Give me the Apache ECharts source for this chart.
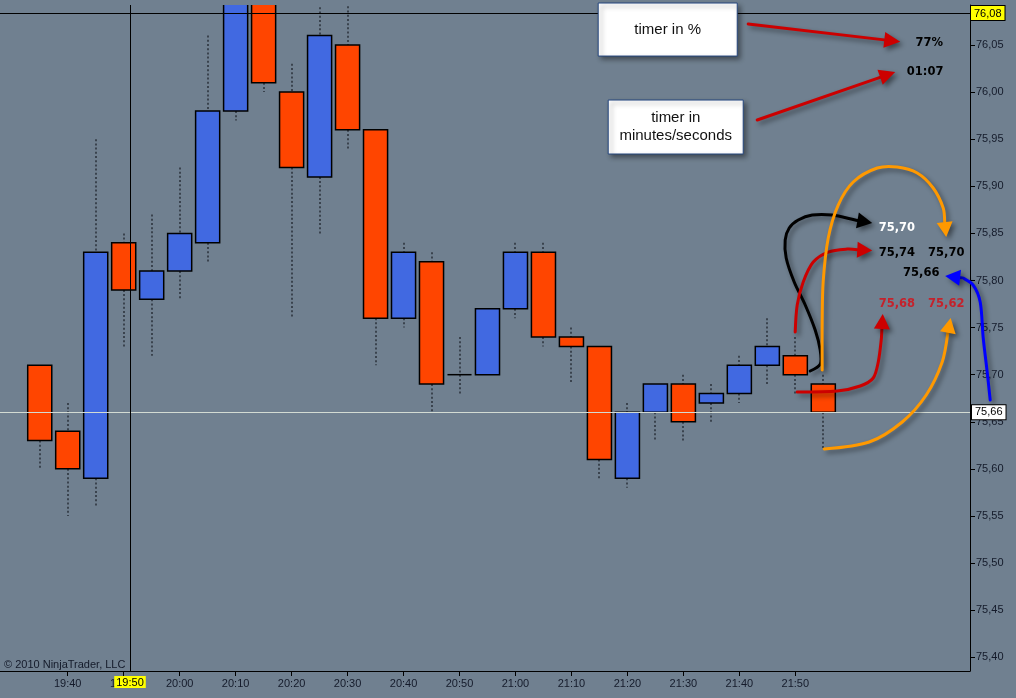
<!DOCTYPE html>
<html>
<head>
<meta charset="utf-8">
<script src="https://cdn.jsdelivr.net/npm/echarts@6/dist/echarts.min.js"></script>
<style>
html,body{margin:0;padding:0;background:#708090;}
#main{width:1016px;height:698px;}
</style>
</head>
<body>
<div id="main"></div>
<script>
// ---------- data (5-minute bars) ----------
const times  = ['19:35','19:40','19:45','19:50','19:55','20:00','20:05','20:10','20:15','20:20','20:25','20:30','20:35','20:40','20:45','20:50','20:55','21:00','21:05','21:10','21:15','21:20','21:25','21:30','21:35','21:40','21:45','21:50','21:55'];
const opens  = [75.71,75.64,75.59,75.84,75.78,75.81,75.84,75.98,76.11,76.00,75.91,76.05,75.96,75.76,75.82,75.70,75.70,75.77,75.83,75.74,75.73,75.59,75.66,75.69,75.67,75.68,75.71,75.72,75.69];
const closes = [75.63,75.60,75.83,75.79,75.81,75.85,75.98,76.11,76.01,75.92,76.06,75.96,75.76,75.83,75.69,75.70,75.77,75.83,75.74,75.73,75.61,75.66,75.69,75.65,75.68,75.71,75.73,75.70,75.66];
const lows   = [75.60,75.55,75.56,75.73,75.72,75.78,75.82,75.97,76.00,75.76,75.85,75.94,75.71,75.75,75.66,75.68,75.70,75.76,75.73,75.69,75.59,75.58,75.63,75.63,75.65,75.67,75.69,75.68,75.62];
const highs  = [75.71,75.67,75.95,75.85,75.87,75.92,76.06,76.12,76.12,76.03,76.09,76.10,75.96,75.84,75.83,75.74,75.77,75.84,75.84,75.75,75.73,75.67,75.69,75.70,75.69,75.72,75.76,75.74,75.70];

// ---------- tick labels ----------
const xTickLabels = ['19:40','19:50','20:00','20:10','20:20','20:30','20:40','20:50','21:00','21:10','21:20','21:30','21:40','21:50'];
const yTickValues = [75.40,75.45,75.50,75.55,75.60,75.65,75.70,75.75,75.80,75.85,75.90,75.95,76.00,76.05];

// ---------- crosshair (minute-of-day, price) ----------
const crossTime = 1191.13, crossTimeLabel = '19:50';
const crossPrice = 76.084, crossPriceLabel = '76,08';

// ---------- annotations, in (minute-of-day, price) ----------
const blackArrowPath = [[1312.66,75.7039],[1314.45,75.7113],[1314.45,75.7262],[1313.55,75.7474],[1311.77,75.7740],[1309.80,75.7984],[1308.37,75.8239],[1308.19,75.8430],[1308.91,75.8557],[1310.52,75.8642],[1313.02,75.8695],[1316.59,75.8695],[1320.70,75.8642]];
const blackArrowTip = [1323.74,75.8610];
const redHighPath = [[1309.98,75.7453],[1310.34,75.7740],[1311.41,75.7984],[1313.20,75.8196],[1315.88,75.8302],[1319.27,75.8334]];
const redHighTip = [1323.74,75.8318];
const orangeHighPath = [[1314.80,75.7050],[1314.80,75.7559],[1314.97,75.7984],[1315.88,75.8451],[1317.66,75.8801],[1320.34,75.9046],[1324.63,75.9194],[1328.20,75.9205],[1331.78,75.9141],[1334.63,75.8982],[1336.42,75.8770]];
const orangeHighTip = [1336.96,75.8462];
const redLowPath = [[1310.34,75.6816],[1317.49,75.6827],[1321.60,75.6880],[1323.92,75.6965],[1324.82,75.7135],[1325.35,75.7368]];
const redLowTip = [1325.62,75.7644];
const orangeLowPath = [[1315.16,75.6211],[1323.20,75.6285],[1329.10,75.6498],[1333.39,75.6784],[1336.24,75.7135]];
const orangeLowTip = [1337.76,75.7602];
const blueArrowPath = [[1344.82,75.6731],[1344.28,75.7029],[1343.57,75.7390],[1343.03,75.7772],[1341.78,75.7952],[1339.99,75.8026]];
const blueArrowTip = [1336.78,75.8048];
const timerPctArrow = [[1301.58,76.0723]];
const timerPctTip = [1328.74,76.0535];
const timerClockArrow = [[1303.19,75.9704]];
const timerClockTip = [1327.85,76.0213];

const priceNotes = [
  {text:'77%',   at:[1333.92,76.0518], color:'#000000'},
  {text:'01:07', at:[1333.20,76.0210], color:'#000000'},
  {text:'75,70', at:[1328.15,75.8554], color:'#ffffff'},
  {text:'75,74', at:[1328.15,75.8295], color:'#000000'},
  {text:'75,70', at:[1336.96,75.8295], color:'#000000'},
  {text:'75,66', at:[1332.49,75.8083], color:'#000000'},
  {text:'75,68', at:[1328.15,75.7747], color:'#c4222c'},
  {text:'75,62', at:[1336.96,75.7747], color:'#c4222c'}
];
const noteBoxes = [
  {text:'timer in %', from:[1274.78,76.0946], to:[1299.62,76.0383]},
  {text:'timer in\nminutes/seconds', from:[1276.57,75.9916], to:[1300.69,75.9343]}
];

// ---------- helpers ----------
const toMin = s => { const p = s.split(':').map(Number); return p[0]*60 + p[1]; };
const fmtTime = v => { const h = Math.floor(v/60), m = Math.round(v - h*60); return h + ':' + String(m).padStart(2,'0'); };
const fmtPrice = v => v.toFixed(2).replace('.', ',');

const X_MIN = 1167.90, X_MAX = 1341.21;
const Y_MIN = 75.3854, Y_MAX = 76.0925;
const BODY_MINUTES = 4.3;
const UP = '#4169e1', DOWN = '#ff4500', WICK = '#3a434e';
const AXIS_TEXT = '#141a2a';
const FONT = '"Liberation Sans", Arial, sans-serif';

const candleData = times.map((t, i) => [toMin(t), opens[i], closes[i], lows[i], highs[i]]);
const xTickValues = xTickLabels.map(toMin);
const lastClose = closes[closes.length - 1];

function renderCandle(params, api) {
  const t = api.value(0), o = api.value(1), c = api.value(2), lo = api.value(3), hi = api.value(4);
  const pO = api.coord([t, o]), pC = api.coord([t, c]);
  const pLo = api.coord([t, lo]), pHi = api.coord([t, hi]);
  const x = pO[0];
  const xw = Math.round(x);
  const w = api.size([BODY_MINUTES, 0])[0];
  const top = Math.min(pO[1], pC[1]), bot = Math.max(pO[1], pC[1]);
  const children = [];
  const wickStyle = {stroke: WICK, lineWidth: 2, lineDash: [2, 2.2]};
  if (pHi[1] < top - 0.5) children.push({type:'line', shape:{x1:xw, y1:pHi[1], x2:xw, y2:top}, style:wickStyle});
  if (pLo[1] > bot + 0.5) children.push({type:'line', shape:{x1:xw, y1:bot, x2:xw, y2:pLo[1]}, style:wickStyle});
  if (c === o) {
    children.push({type:'line', shape:{x1:x - w/2, y1:top, x2:x + w/2, y2:top}, style:{stroke:'#000', lineWidth:1.5}});
  } else {
    children.push({type:'rect', shape:{x:x - w/2, y:top, width:w, height:bot - top},
      style:{fill: c > o ? UP : DOWN, stroke:'#000', lineWidth:1.5}});
  }
  return {type:'group', children};
}

const chart = echarts.init(document.getElementById('main'));
chart.setOption({
  backgroundColor: '#708090',
  animation: false,
  grid: {left: 0, right: 46, top: 5, bottom: 27, outerBoundsMode: 'none'},
  xAxis: {
    type: 'value', min: X_MIN, max: X_MAX, position: 'bottom',
    axisLine: {show: true, onZero: false, lineStyle: {color: '#000', width: 1}},
    axisTick: {show: true, customValues: xTickValues, length: 5, lineStyle: {color: '#000'}},
    axisLabel: {customValues: xTickValues, formatter: fmtTime, color: AXIS_TEXT, fontSize: 11, fontFamily: FONT, margin: 7},
    splitLine: {show: false},
    axisPointer: {
      show: true, type: 'line', snap: false, value: crossTime, status: 'show', triggerTooltip: false,
      lineStyle: {color: '#000', width: 1, type: 'solid'},
      label: {show: true, formatter: crossTimeLabel, backgroundColor: '#ffff00', color: '#000', fontSize: 11,
        fontFamily: FONT, padding: [1, 2, 0, 2], margin: 5, borderRadius: 0, shadowBlur: 0}
    }
  },
  yAxis: {
    type: 'value', position: 'right', min: Y_MIN, max: Y_MAX, scale: true,
    axisLine: {show: true, lineStyle: {color: '#000', width: 1}},
    axisTick: {show: true, customValues: yTickValues, length: 5, inside: false, lineStyle: {color: '#000'}},
    axisLabel: {customValues: yTickValues, formatter: fmtPrice, color: AXIS_TEXT, fontSize: 11, fontFamily: FONT, margin: 6},
    splitLine: {show: false},
    axisPointer: {
      show: true, type: 'line', snap: false, value: crossPrice, status: 'show', triggerTooltip: false,
      lineStyle: {color: '#000', width: 1, type: 'solid'},
      label: {show: true, formatter: crossPriceLabel, backgroundColor: '#ffff00', color: '#000', fontSize: 11,
        fontFamily: FONT, padding: [2, 3, 1, 3], margin: 1, borderColor: '#000', borderWidth: 1, borderRadius: 0, shadowBlur: 0}
    }
  },
  tooltip: {show: false},
  series: [{
    type: 'custom', name: 'CL', renderItem: renderCandle, data: candleData,
    encode: {x: 0, y: [1, 2, 3, 4]}, clip: true, silent: true,
    markLine: {
      silent: true, symbol: ['none', 'none'], animation: false,
      data: [{yAxis: lastClose}],
      lineStyle: {color: '#d3dbd3', width: 1, type: 'solid'},
      label: {show: true, position: 'end', formatter: fmtPrice(lastClose), backgroundColor: '#ffffff',
        borderColor: '#000', borderWidth: 1, padding: [2, 3, 1, 3], color: '#000', fontSize: 11, fontFamily: FONT, distance: 2}
    }
  }]
});

// ---------- annotation overlay, positioned through the chart's scales ----------
const px = p => chart.convertToPixel({gridIndex: 0}, p);
const shadow = {shadowBlur: 5, shadowColor: 'rgba(0,0,0,0.45)', shadowOffsetX: 3, shadowOffsetY: 3};
function arrow(path, tip, color, width, headLen, headHalf, smooth) {
  const pts = path.map(px);
  const tp = px(tip);
  const last = pts[pts.length - 1];
  let dx = tp[0] - last[0], dy = tp[1] - last[1];
  const len = Math.hypot(dx, dy); dx /= len; dy /= len;
  const base = [tp[0] - dx*headLen, tp[1] - dy*headLen];
  const nx = -dy, ny = dx;
  return [
    {type: 'polyline', z: 100, shape: {points: pts.concat([base]), smooth: smooth},
      style: Object.assign({stroke: color, lineWidth: width, fill: null, lineCap: 'round'}, shadow)},
    {type: 'polygon', z: 100, shape: {points: [tp, [base[0] + nx*headHalf, base[1] + ny*headHalf], [base[0] - nx*headHalf, base[1] - ny*headHalf]]},
      style: Object.assign({fill: color}, shadow)}
  ];
}
const elements = [];
elements.push(...arrow(blackArrowPath, blackArrowTip, '#000000', 3, 15, 8, 0.3));
elements.push(...arrow(redHighPath, redHighTip, '#cc0000', 3, 15, 8, 0.3));
elements.push(...arrow(orangeHighPath, orangeHighTip, '#ff9900', 3, 15, 8, 0.3));
elements.push(...arrow(redLowPath, redLowTip, '#cc0000', 3, 15, 8, 0.3));
elements.push(...arrow(orangeLowPath, orangeLowTip, '#ff9900', 3, 15, 8, 0.3));
elements.push(...arrow(blueArrowPath, blueArrowTip, '#0000ff', 3, 15, 8, 0.3));
elements.push(...arrow(timerPctArrow, timerPctTip, '#cc0000', 3, 16, 8, 0));
elements.push(...arrow(timerClockArrow, timerClockTip, '#cc0000', 3, 16, 8, 0));

noteBoxes.forEach(b => {
  const a = px(b.from), c = px(b.to);
  elements.push({type: 'rect', z: 100, shape: {x: a[0], y: a[1], width: c[0] - a[0], height: c[1] - a[1]},
    style: Object.assign({fill: '#ffffff', stroke: '#24467e', lineWidth: 1}, shadow)});
  elements.push({type: 'text', z: 101, x: (a[0] + c[0]) / 2, y: (a[1] + c[1]) / 2,
    style: {text: b.text, fill: '#111111', font: '15px ' + FONT, align: 'center', verticalAlign: 'middle', lineHeight: 18}});
});
priceNotes.forEach(n => {
  const p = px(n.at);
  elements.push({type: 'text', z: 101, x: p[0], y: p[1],
    style: {text: n.text, fill: n.color, font: 'bold 11.5px "DejaVu Sans", Verdana, sans-serif', align: 'center', verticalAlign: 'middle',
      shadowBlur: 2, shadowColor: 'rgba(0,0,0,0.35)', shadowOffsetX: 1, shadowOffsetY: 1}});
});
elements.push({type: 'text', z: 101, left: 4, top: 659,
  style: {text: '\u00a9 2010 NinjaTrader, LLC', fill: AXIS_TEXT, font: '11px ' + FONT}});

chart.setOption({graphic: {elements: elements}});
</script>
</body>
</html>
